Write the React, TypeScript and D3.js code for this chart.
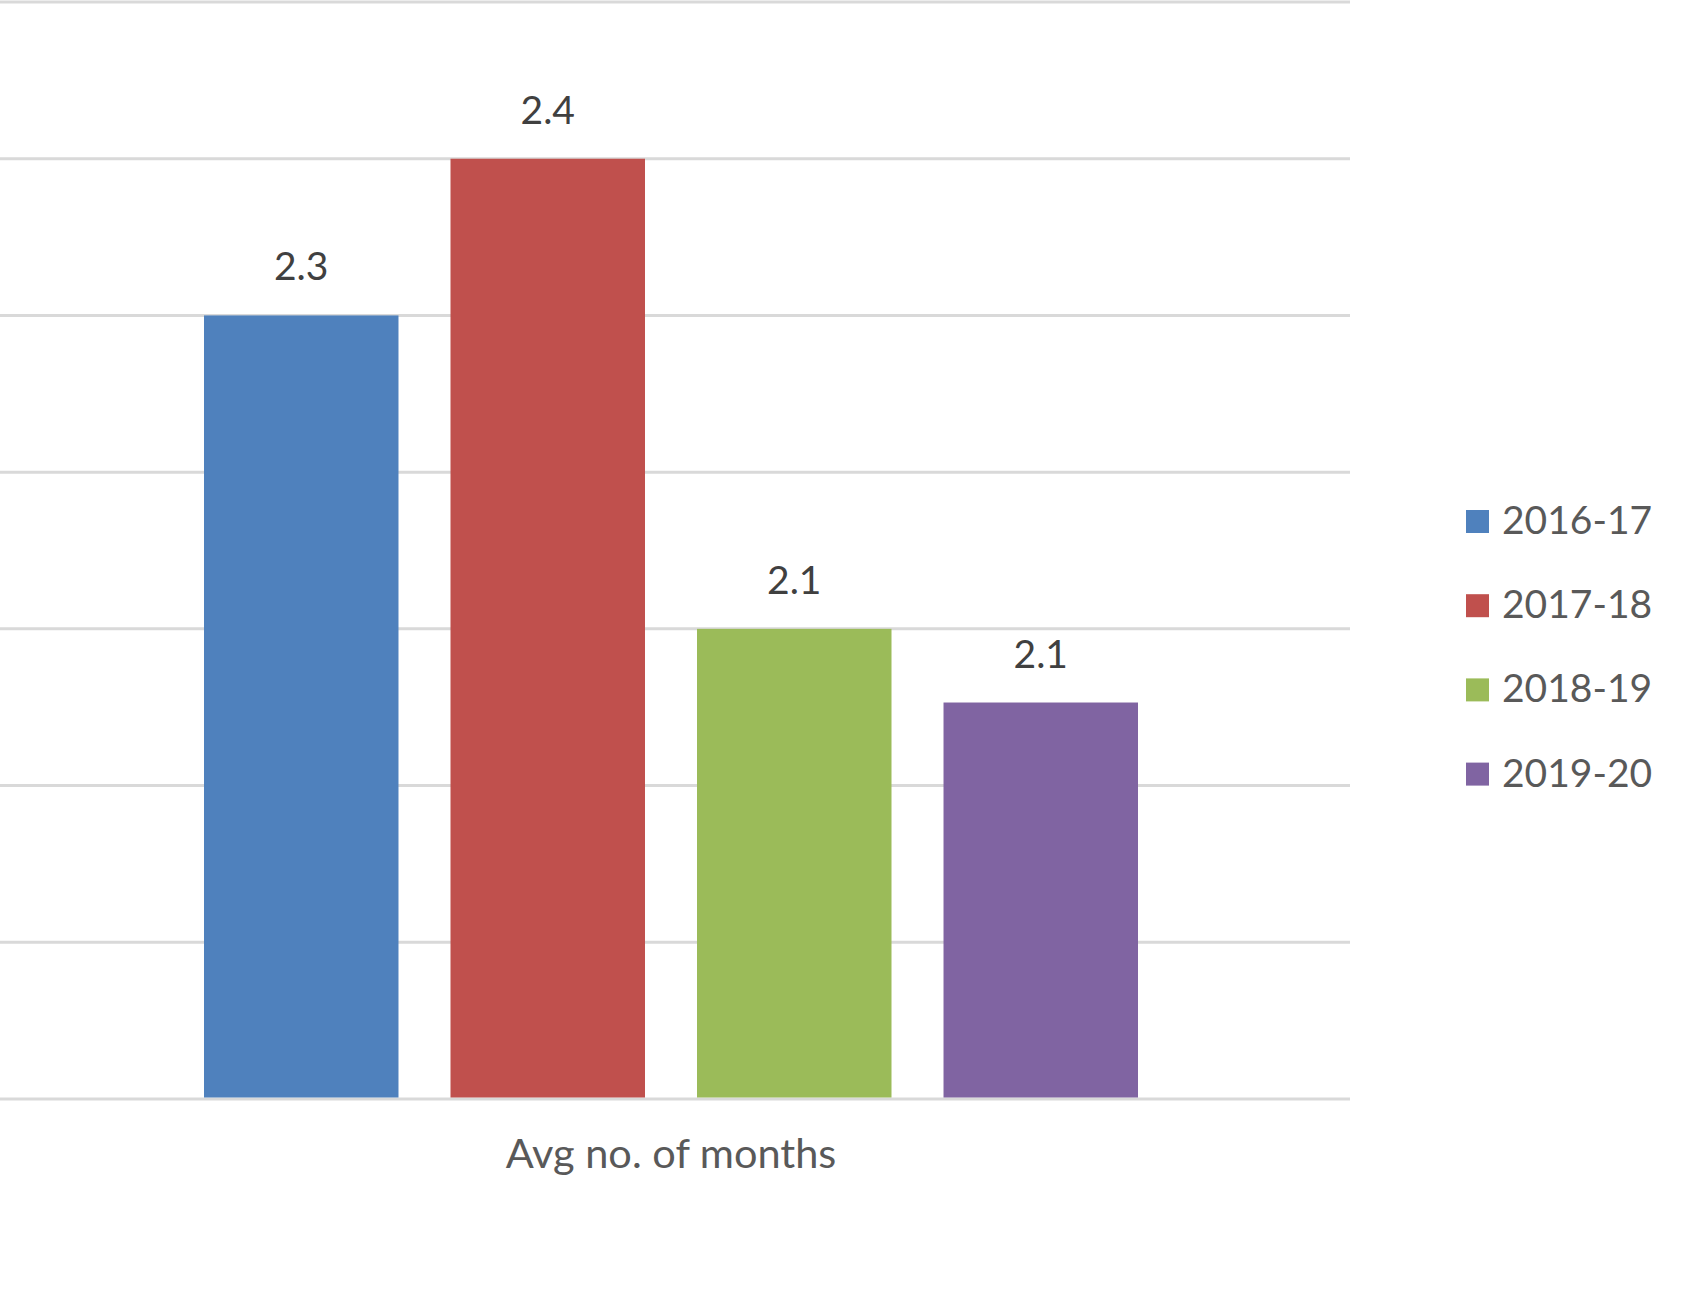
import React, { useEffect, useRef } from 'react';
import * as d3 from 'd3';

const category = 'Avg no. of months';
const seriesNames = ['2016-17', '2017-18', '2018-19', '2019-20'];
const seriesValues = [2.3, 2.4, 2.1, 2.053];
const seriesColors = ['#4F81BD', '#C0504D', '#9BBB59', '#8064A2'];
const yDomain: [number, number] = [1.8, 2.5];

const App: React.FC = () => {
  const svgRef = useRef<SVGSVGElement>(null);
  const width = 1696;
  const height = 1292;

  useEffect(() => {
    if (!svgRef.current) return;
    const root = d3.select(svgRef.current);
    root.selectAll('*').remove();

    const font = 'Lato, "Open Sans", sans-serif';

    // plot area (left edge is cropped off in the picture)
    const plot = { left: -8, right: 1350, top: 2, bottom: 1099 };

    const y = d3.scaleLinear().domain(yDomain).range([plot.bottom, plot.top]);

    const x = d3
      .scaleBand<string>()
      .domain(seriesNames)
      .range([plot.left, plot.right])
      .paddingInner(0.211)
      .paddingOuter(0.86);

    const data = seriesNames.map((name, i) => ({
      name,
      value: seriesValues[i],
      color: seriesColors[i],
    }));

    // Gridlines
    root
      .append('g')
      .selectAll('line')
      .data(y.ticks(7))
      .enter()
      .append('line')
      .attr('x1', Math.max(plot.left, 0))
      .attr('x2', plot.right)
      .attr('y1', (d) => y(d))
      .attr('y2', (d) => y(d))
      .attr('stroke', '#d9d9d9')
      .attr('stroke-width', 3);

    // Bars
    root
      .append('g')
      .selectAll('rect')
      .data(data)
      .enter()
      .append('rect')
      .attr('x', (d) => x(d.name) as number)
      .attr('y', (d) => y(d.value))
      .attr('width', x.bandwidth())
      .attr('height', (d) => y(yDomain[0]) - y(d.value) - 1.5)
      .attr('fill', (d) => d.color);

    // Data labels
    root
      .append('g')
      .selectAll('text')
      .data(data)
      .enter()
      .append('text')
      .attr('x', (d) => (x(d.name) as number) + x.bandwidth() / 2)
      .attr('y', (d) => y(d.value) - 35)
      .attr('text-anchor', 'middle')
      .attr('font-family', font)
      .attr('font-size', 39)
      .attr('fill', '#404040')
      .text((d) => d3.format('.1f')(d.value));

    // Category label
    root
      .append('text')
      .attr('x', (plot.left + plot.right) / 2)
      .attr('y', plot.bottom + 69)
      .attr('text-anchor', 'middle')
      .attr('font-family', font)
      .attr('font-size', 41.5)
      .attr('fill', '#595959')
      .text(category);

    // Legend
    const legend = root
      .append('g')
      .attr('transform', 'translate(1466,510)')
      .selectAll('g')
      .data(data)
      .enter()
      .append('g')
      .attr('transform', (_d, i) => `translate(0,${i * 84.2})`);

    legend
      .append('rect')
      .attr('width', 23)
      .attr('height', 23)
      .attr('fill', (d) => d.color);

    legend
      .append('text')
      .attr('x', 36)
      .attr('y', 24)
      .attr('font-family', font)
      .attr('font-size', 39)
      .attr('fill', '#595959')
      .text((d) => d.name);
  }, []);

  return (
    <svg
      ref={svgRef}
      width={width}
      height={height}
      style={{ position: 'absolute', left: 0, top: 0, background: '#ffffff' }}
    />
  );
};

export default App;
